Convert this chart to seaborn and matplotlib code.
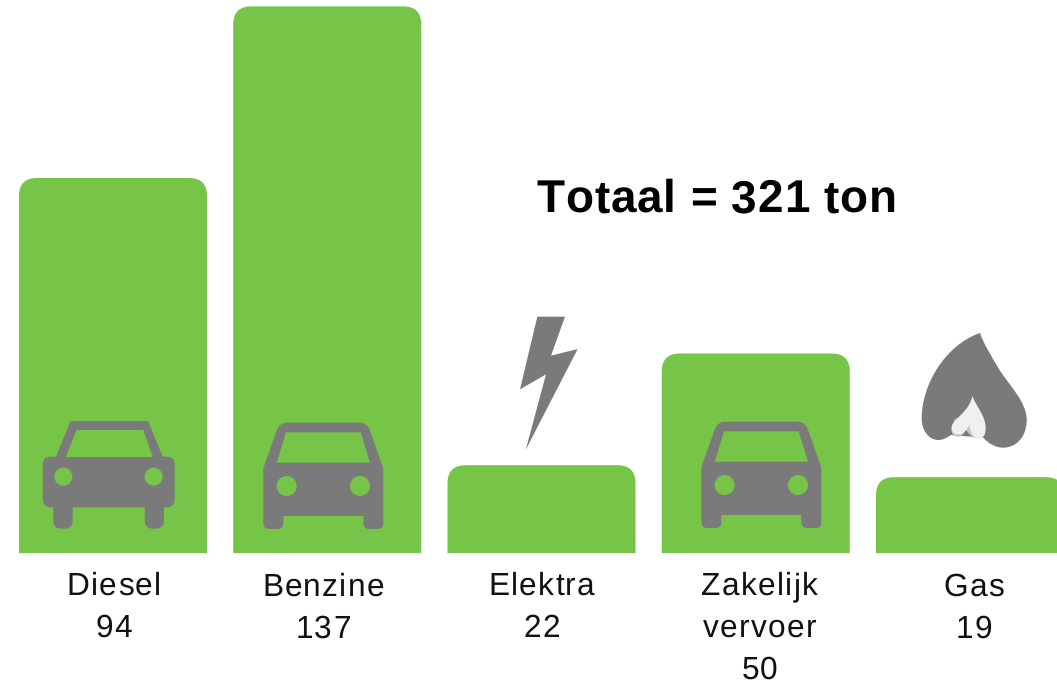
import matplotlib
matplotlib.use("Agg")
import matplotlib.pyplot as plt
import seaborn as sns
import pandas as pd
from matplotlib.path import Path
from matplotlib.patches import PathPatch, Circle
from matplotlib.text import Text
from matplotlib.transforms import Affine2D, Bbox
from matplotlib.font_manager import findfont, get_font
from matplotlib.ft2font import LoadFlags

categories = ["Diesel", "Benzine", "Elektra", "Zakelijk\nvervoer", "Gas"]
values = [94, 137, 22, 50, 19]
title_text = "Totaal = 321 ton"

GREEN = "#76C548"
GRAY = "#7A7A7A"
W, H = 1057, 686
FONT = "Liberation Sans"

sns.set_theme(style="white")
plt.rcParams["font.family"] = [FONT, "DejaVu Sans"]
plt.rcParams["text.hinting"] = "no_hinting"

fig = plt.figure(figsize=(W / 100, H / 100), dpi=100, facecolor="white")
ax = fig.add_axes([0, 0, 1, 1])
df = pd.DataFrame({"cat": categories, "val": values})
sns.barplot(data=df, x="cat", y="val", color=GREEN, saturation=1, width=188 / 214.25, ax=ax)
ax.set_xlim(-113 / 214.25, (W - 113) / 214.25)
ax.set_ylim(-(H - 553) / 3.99, 553 / 3.99)
ax.axis("off")

px = Affine2D().scale(1, -1).translate(0, H)  # reference pixels -> display
M, L, Q, C4, Z = Path.MOVETO, Path.LINETO, Path.CURVE3, Path.CURVE4, Path.CLOSEPOLY


def add_path(verts, codes, color, z=3):
    fig.add_artist(PathPatch(Path(verts, codes), facecolor=color, edgecolor="none",
                             transform=px, zorder=z, clip_on=False))


# rounded tops on the seaborn bars
fig.canvas.draw()
R = 18
to_px = ax.transData + px.inverted()
for bar in list(ax.patches):
    x0, y0 = to_px.transform((bar.get_x(), bar.get_y()))
    x1, y1 = to_px.transform((bar.get_x() + bar.get_width(), bar.get_height()))
    add_path([(x0, y0), (x0, y1 + R), (x0, y1), (x0 + R, y1), (x1 - R, y1), (x1, y1), (x1, y1 + R), (x1, y0), (x0, y0)],
             [M, L, Q, Q, L, Q, Q, L, Z], GREEN, z=2)
    bar.set_visible(False)


def rrect(x0, y0, x1, y1, r):
    return ([(x0 + r, y0), (x1 - r, y0), (x1, y0), (x1, y0 + r), (x1, y1 - r), (x1, y1), (x1 - r, y1),
             (x0 + r, y1), (x0, y1), (x0, y1 - r), (x0, y0 + r), (x0, y0), (x0 + r, y0), (x0 + r, y0)],
            [M, L, Q, Q, L, Q, Q, L, Q, Q, L, Q, Q, Z])


def circle(cx, cy, r):
    fig.add_artist(Circle((cx, cy), r, facecolor=GREEN, edgecolor="none", transform=px, zorder=4))


def poly(pts, color, z=3):
    add_path(list(pts) + [pts[0]], [M] + [L] * (len(pts) - 1) + [Z], color, z)


def car_wide(ox, oy):
    f = lambda zx, zy: (ox + zx / 3, oy + zy / 3)
    add_path(*rrect(*f(38, 140), *f(434, 292), 8), GRAY)
    add_path(*rrect(*f(70, 250), *f(128, 356), 8), GRAY)
    add_path(*rrect(*f(344, 250), *f(402, 356), 8), GRAY)
    add_path(*rrect(*f(118, 33), *f(358, 70), 4), GRAY)
    poly([f(76, 145), f(118, 42), f(358, 42), f(400, 145)], GRAY)
    poly([f(107, 141), f(140, 60), f(340, 60), f(368, 141)], GREEN, 4)
    circle(*f(100, 200), 9)
    circle(*f(371, 200), 9)


def car_tall(ox, oy):
    f = lambda zx, zy: (ox + zx / 3, oy + zy / 3)
    v = [f(40, 175), f(80, 62), f(88, 38), f(112, 38), f(328, 38), f(352, 38), f(360, 62), f(400, 175),
         f(400, 340), f(400, 357), f(382, 357), f(358, 357), f(340, 357), f(340, 340), f(340, 318), f(100, 318),
         f(100, 340), f(100, 357), f(82, 357), f(58, 357), f(40, 357), f(40, 340), f(40, 175)]
    add_path(v, [M, L, Q, Q, L, Q, Q, L, L, Q, Q, L, Q, Q, L, L, L, Q, Q, L, Q, Q, Z], GRAY)
    poly([f(80, 158), f(108, 67), f(332, 67), f(360, 158)], GREEN, 4)
    circle(*f(110, 228), 10)
    circle(*f(330, 228), 10)


car_wide(30, 410)
car_tall(250, 410)
car_tall(688, 409)

# lightning
b = lambda zx, zy: (500 + zx / 3, 310 + zy / 3)
poly([b(112, 20), b(195, 20), b(153, 137), b(233, 117), b(77, 420), b(138, 193), b(60, 238)], GRAY)

# flame
h = lambda zx, zy: (915 + zx / 3, 385 + zy / 3)
add_path([h(195, -156), h(205, -125), h(230, -85), h(250, -51), h(280, 0), h(338, 50), h(335, 110),
          h(333, 160), h(300, 188), h(265, 188),
          h(240, 188), h(220, 175), h(205, 158), h(108, 150), h(95, 158), h(85, 165), h(70, 165),
          h(40, 165), h(20, 135), h(20, 100), h(20, 0), h(90, -120), h(195, -156), h(195, -156)],
         [M] + [C4] * 12 + [L] + [C4] * 9 + [Z], GRAY)
add_path([h(122, 100), h(105, 125), h(105, 150), h(125, 155), h(140, 158), h(150, 145), h(150, 130),
          h(160, 145), h(170, 160), h(185, 160), h(205, 158), h(170, 100), h(122, 100), h(122, 100)],
         [M, C4, C4, C4, C4, C4, C4, C4, C4, C4, L, L, L, Z], "#C6C6C6", 4)
add_path([h(172, 32), h(180, 60), h(212, 90), h(212, 130), h(212, 150), h(205, 160), h(190, 160),
          h(175, 160), h(165, 140), h(163, 118), h(158, 135), h(145, 148), h(130, 148),
          h(115, 148), h(105, 135), h(112, 120), h(125, 95), h(165, 75), h(172, 32), h(172, 32)],
         [M] + [C4] * 18 + [Z], "#EFF0F1", 5)


class SpacedText(Text):
    """One text artist that draws its string with extra letter spacing."""

    def __init__(self, cx, base, s, spacing, **kw):
        super().__init__(cx, base, s, transform=px, ha="center", va="baseline", **kw)
        self.spacing = spacing

    def _children(self):
        s = self.get_text()
        font = get_font(findfont(self.get_fontproperties()))
        font.set_size(self.get_fontsize(), 100)
        adv = [font.load_char(ord(c), flags=LoadFlags.NO_HINTING).linearHoriAdvance / 65536 for c in s]
        total = sum(adv) + self.spacing * (len(s) - 1)
        cx, base = self.get_position()
        x = cx - total / 2
        out = []
        for c, a in zip(s, adv):
            t = Text(x, base, c, transform=px, ha="left", va="baseline", fontproperties=self.get_fontproperties(),
                     color=self.get_color())
            t.set_figure(self.get_figure())
            out.append(t)
            x += a + self.spacing
        return out

    def draw(self, renderer):
        for t in self._children():
            t.draw(renderer)

    def get_window_extent(self, renderer=None, dpi=None):
        return Bbox.union([t.get_window_extent(renderer) for t in self._children() if t.get_text().strip()])


TXT = "#111111"
label_x = [113.5, 323, 541.5, 759.5, 974]
label_base = [595, 596, 595, 595, 596]
for i, (c, v) in enumerate(zip(categories, values)):
    for j, s in enumerate(c.split("\n") + [str(v)]):
        fig.add_artist(SpacedText(label_x[i], label_base[i] + j * 42, s, 1.3, fontsize=22.8, color=TXT,
                                  fontfamily=FONT))

fig.add_artist(SpacedText(716.5, 212.3, title_text, 0.8, fontsize=33, fontweight="bold", color="black",
                          fontfamily=FONT))
fig.savefig("out.png", dpi=100)
